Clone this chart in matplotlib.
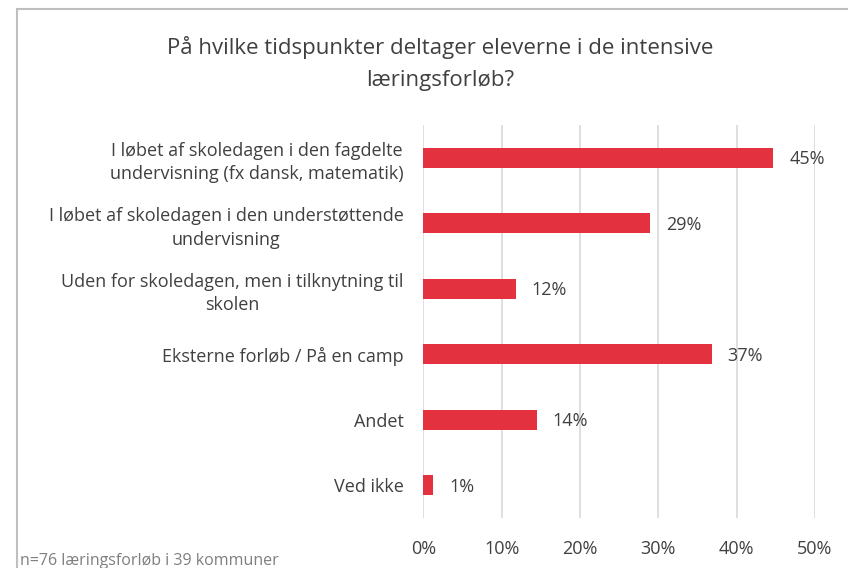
import matplotlib
matplotlib.use("Agg")
import matplotlib.pyplot as plt
from matplotlib.patches import Rectangle

plt.rcParams['font.family'] = ['Open Sans', 'DejaVu Sans']

categories = [
    "I løbet af skoledagen i den fagdelte\nundervisning (fx dansk, matematik)",
    "I løbet af skoledagen i den understøttende\nundervisning",
    "Uden for skoledagen, men i tilknytning til\nskolen",
    "Eksterne forløb / På en camp",
    "Andet",
    "Ved ikke",
]
values = [44.7, 28.9, 11.8, 36.8, 14.5, 1.3]
value_labels = ["45%", "29%", "12%", "37%", "14%", "1%"]
xticks = [0, 10, 20, 30, 40, 50]
xtick_labels = ["0%", "10%", "20%", "30%", "40%", "50%"]
title = "På hvilke tidspunkter deltager eleverne i de intensive\nlæringsforløb?"
footnote = "n=76 læringsforløb i 39 kommuner"

W, H = 848, 568
fig = plt.figure(figsize=(W / 100, H / 100), dpi=100)

# border
fig.patches.append(Rectangle((17 / W, -0.1), 1.2, 1 - 9 / H + 0.1, transform=fig.transFigure,
                             fill=False, edgecolor='#BFBFBF', linewidth=1.5))

x0, x1 = 423.3, 815.0
y_top, y_bot = 125.0, 518.0
ax = fig.add_axes([x0 / W, 1 - y_bot / H, (x1 - x0) / W, (y_bot - y_top) / H])

bar_color = '#E3313F'
text_color = '#404040'
ypos = list(range(len(categories)))
ax.barh(ypos, values, height=0.31, color=bar_color, zorder=3)
ax.set_xlim(0, 50)
ax.set_ylim(len(categories) - 0.5, -0.5)
ax.set_xticks(xticks)
ax.set_xticklabels(xtick_labels, fontsize=13, color=text_color)
ax.tick_params(axis='x', length=0, pad=15.5)
ax.set_yticks(ypos)
ax.set_yticklabels(categories, fontsize=13, color=text_color, multialignment='center',
                   linespacing=1.4)
ax.tick_params(axis='y', length=0, pad=14)
ax.grid(axis='x', color='#D9D9D9', linewidth=1.2, zorder=0)
for s in ax.spines.values():
    s.set_visible(False)

for y, v, lab in zip(ypos, values, value_labels):
    ax.annotate(lab, (v, y), xytext=(11.5, -1), textcoords='offset points',
                va='center', ha='left', fontsize=13, color=text_color)

fig.text(440 / W, 1 - 63.5 / H, title, ha='center', va='center', fontsize=16,
         color=text_color, linespacing=1.65)
fig.text(20 / W, 1 - 561 / H, footnote, ha='left', va='center', fontsize=11.5, color='#7F7F7F')

fig.savefig('out.png', dpi=100)
